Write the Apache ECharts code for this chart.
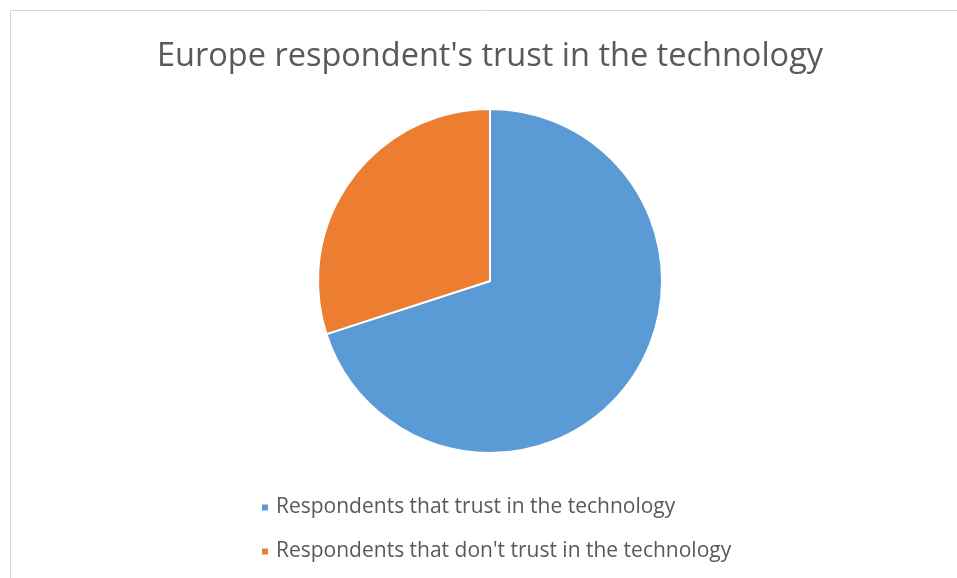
<!DOCTYPE html>
<html>
<head>
<meta charset="utf-8">
<script src="https://cdn.jsdelivr.net/npm/echarts@6/dist/echarts.min.js"></script>
<style>
  html, body { margin: 0; padding: 0; background: #fff; }
  #chart { width: 957px; height: 578px; }
</style>
</head>
<body>
<div id="chart"></div>
<script>
// Survey answers (percent of respondents)
const categories = [
  "Respondents that trust in the technology",
  "Respondents that don't trust in the technology"
];
const shares = [70, 30];
const colors = ["#5B9BD5", "#ED7D31"];

const chart = echarts.init(document.getElementById('chart'));
const font = "'Open Sans', 'DejaVu Sans', sans-serif";

chart.setOption({
  animation: false,
  backgroundColor: '#ffffff',
  color: colors,
  title: {
    text: "Europe respondent's trust in the technology",
    left: 152,
    top: 35,
    textStyle: { fontFamily: font, fontSize: 32.5, fontWeight: 'normal', color: '#595959' }
  },
  legend: {
    orient: 'vertical',
    left: 255,
    top: 492,
    itemWidth: 8,
    itemHeight: 8,
    itemGap: 23,
    icon: 'rect',
    textStyle: { fontFamily: font, fontSize: 21, color: '#595959', padding: [0, 0, 0, 2] },
    data: categories
  },
  graphic: [{
    type: 'rect',
    shape: { x: 10.5, y: 10.5, width: 960, height: 580 },
    style: { fill: 'none', stroke: '#d9d9d9', lineWidth: 1 },
    silent: true
  }],
  series: [{
    type: 'pie',
    center: [490, 281],
    radius: 172,
    startAngle: 90,
    clockwise: true,
    label: { show: false },
    labelLine: { show: false },
    itemStyle: { borderColor: '#ffffff', borderWidth: 2 },
    data: categories.map((name, i) => ({ name, value: shares[i] }))
  }]
});
</script>
</body>
</html>
